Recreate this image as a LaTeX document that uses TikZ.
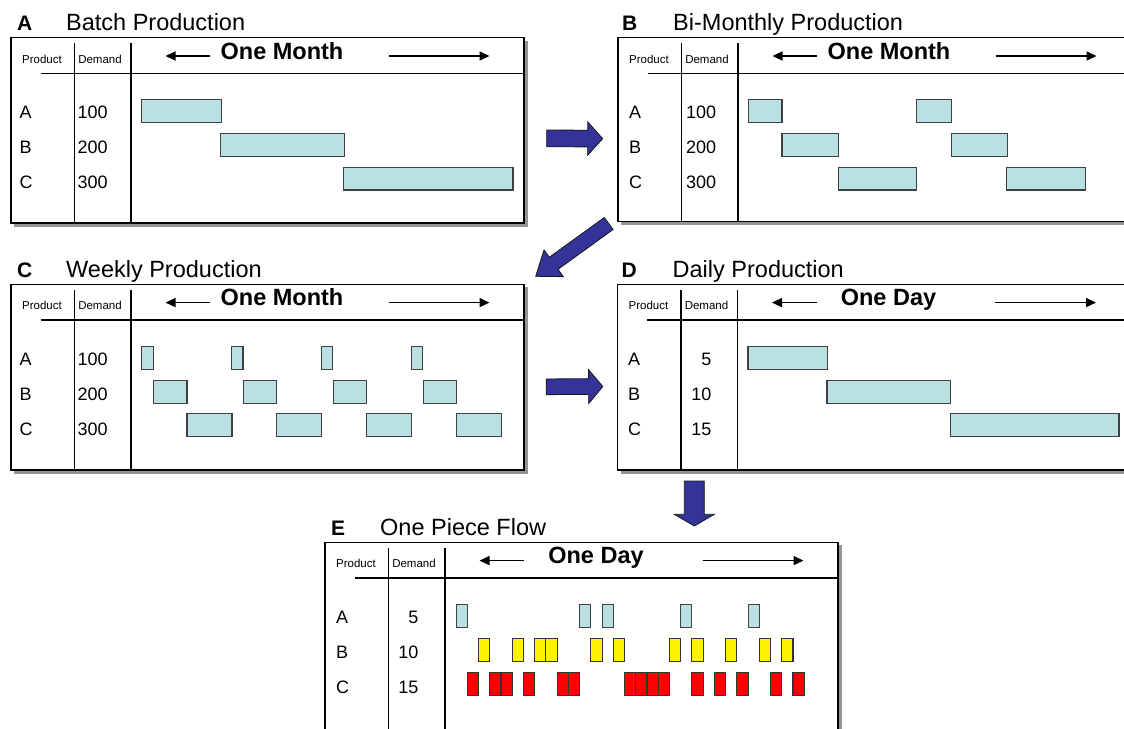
\documentclass[tikz,border=0pt]{standalone}
\usepackage{fontspec}
\setmainfont{Liberation Sans}
\usetikzlibrary{calc,arrows.meta}
\definecolor{barblue}{HTML}{BAE0E3}
\definecolor{arrowblue}{HTML}{333399}
\definecolor{shadowgray}{gray}{0.58}

\tikzset{
  frame/.style={draw=black, line width=1.2pt, fill=white},
  panelshadow/.style={fill=shadowgray},
  colrule/.style={draw=black, line width=1.2pt},
  hdrrule/.style={draw=black, line width=1.8pt},
  hdrarrow/.style={draw=black, line width=1.5pt, -{Triangle[length=10pt,width=9pt]}},
  paneltitle/.style={anchor=base west, inner sep=0pt, font=\fontsize{23.5}{28}\selectfont},
  panelletter/.style={anchor=base west, inner sep=0pt, font=\bfseries\fontsize{21}{25}\selectfont},
  colhead/.style={anchor=base, inner sep=0pt, font=\fontsize{11.5}{14}\selectfont},
  hdrtext/.style={anchor=base, inner sep=0pt, font=\bfseries\fontsize{23.5}{28}\selectfont},
  rowlbl/.style={anchor=base west, inner sep=0pt, font=\fontsize{18}{22}\selectfont},
  rownumL/.style={anchor=base west, inner sep=0pt, font=\fontsize{18}{22}\selectfont},
  rownumR/.style={anchor=base east, inner sep=0pt, font=\fontsize{18}{22}\selectfont},
  bluebar/.style={draw=black!75, line width=1.1pt, fill=barblue},
  yellowbar/.style={draw=black!80, line width=1.1pt, fill=yellow},
  redbar/.style={draw=black!80, line width=1.1pt, fill=red},
  blockarrow/.style={fill=arrowblue, draw=black!90, line width=0.8pt, line join=miter},
}

% #1 name, #2 left, #3 top, #4 height, #5 letter, #6 title, #7 header, #8 letter x, #9 row label x
\newcommand\panelframe[9]{%
 \begin{scope}[shift={(#2,#3)}]
  \fill[panelshadow] (3,3) rectangle (516.5,#4+3.5);
  \draw[frame] (0,0) rectangle (513,#4);
  \draw[colrule] (63.5,5.5) -- (63.5,#4);
  \draw[colrule] (120,5.5) -- (120,#4);
  \draw[hdrrule] (29.6,35.7) -- (513,35.7);
  \node[panelletter] (#1-letter) at (#8,-7) {#5};
  \node[paneltitle] (#1-title) at (55,-7) {#6};
  \node[colhead] (#1-prod) at (31,25.5) {Product};
  \node[colhead] (#1-dem) at (89,25.5) {Demand};
  \node[hdrtext] (#1-hdr) at (271,21.6) {#7};
  \coordinate (#1-l0) at (199,18.3);
  \coordinate (#1-l1) at (154.5,18.3);
  \coordinate (#1-r0) at (377.5,18.3);
  \coordinate (#1-r1) at (478.5,18.3);
  \draw[hdrarrow] (#1-l0) -- (#1-l1);
  \draw[hdrarrow] (#1-r0) -- (#1-r1);
  \node[rowlbl] (#1-a) at (#9,81) {A};
  \node[rowlbl] (#1-b) at (#9,116) {B};
  \node[rowlbl] (#1-c) at (#9,151) {C};
 \end{scope}}

% #1 name, #2 tail, #3 tip, #4 half shaft, #5 half head, #6 head length
\newcommand\blockarrow[6]{%
  \coordinate (#1-base) at ($(#3)!#6!(#2)$);
  \filldraw[blockarrow] ($(#2)!#4!90:(#3)$) -- ($(#1-base)!#4!-90:(#2)$)
    -- ($(#1-base)!#5!-90:(#2)$) -- (#3) -- ($(#1-base)!#5!90:(#2)$)
    -- ($(#1-base)!#4!90:(#2)$) -- ($(#2)!#4!-90:(#3)$) -- cycle;}

\begin{document}
\begin{tikzpicture}[x=1pt,y=-1pt]
\path[use as bounding box] (0,0) rectangle (1124,728);
\clip (0,0) rectangle (1124,728);
\fill[white] (0,0) rectangle (1124,728);

% ---------- panels ----------
\panelframe{A}{11}{37.7}{185.3}{A}{Batch Production}{One Month}{6}{8.5}
\panelframe{B}{618}{37.7}{184}{B}{Bi-Monthly Production}{One Month}{4}{11}
\panelframe{C}{11}{284.3}{185.7}{C}{Weekly Production}{One Month}{6}{8.5}
\panelframe{D}{617.5}{284.3}{185.7}{D}{Daily Production}{One Day}{4}{10.5}
\panelframe{E}{325}{542.3}{190}{E}{One Piece Flow}{One Day}{6}{11}

% ---------- demand numbers ----------
\node[rownumL] (A-na) at (77.5,118.7) {100};
\node[rownumL] (A-nb) at (77.5,153.7) {200};
\node[rownumL] (A-nc) at (77.5,188.7) {300};
\node[rownumL] (B-na) at (686,118.7) {100};
\node[rownumL] (B-nb) at (686,153.7) {200};
\node[rownumL] (B-nc) at (686,188.7) {300};
\node[rownumL] (C-na) at (77.5,365.3) {100};
\node[rownumL] (C-nb) at (77.5,400.3) {200};
\node[rownumL] (C-nc) at (77.5,435.3) {300};
\node[rownumR] (D-na) at (711.5,365.3) {5};
\node[rownumR] (D-nb) at (711.5,400.3) {10};
\node[rownumR] (D-nc) at (711.5,435.3) {15};
\node[rownumR] (E-na) at (418.6,623.3) {5};
\node[rownumR] (E-nb) at (418.6,658.3) {10};
\node[rownumR] (E-nc) at (418.6,693.3) {15};

% ---------- bars: panel A ----------
\begin{scope}[shift={(0,37.7)}]
  \draw[bluebar] (141.9,62) rectangle (221.4,84.8);
  \draw[bluebar] (220.7,96) rectangle (344.4,118.8);
  \draw[bluebar] (343.3,129.5) rectangle (513,152.3);
\end{scope}
% ---------- bars: panel B ----------
\begin{scope}[shift={(0,37.7)}]
  \draw[bluebar] (748.6,62) rectangle (782,84.8);
  \draw[bluebar] (916.9,62) rectangle (951.5,84.8);
  \draw[bluebar] (782,96) rectangle (838.7,118.8);
  \draw[bluebar] (951.5,96) rectangle (1007.4,118.8);
  \draw[bluebar] (838.7,129.5) rectangle (916.9,152.3);
  \draw[bluebar] (1006.7,129.5) rectangle (1085.6,152.3);
\end{scope}
% ---------- bars: panel C ----------
\begin{scope}[shift={(0,284.3)}]
  \foreach \s in {141.9,231.8,321.7,411.6}
    \draw[bluebar] (\s,62) rectangle ++(11.2,22.8);
  \foreach \s in {153.4,243.3,333.2,423.1}
    \draw[bluebar] (\s,96) rectangle ++(33.6,22.8);
  \foreach \s in {187,276.9,366.8,456.7}
    \draw[bluebar] (\s,129.5) rectangle ++(45,22.8);
\end{scope}
% ---------- bars: panel D ----------
\begin{scope}[shift={(0,284.3)}]
  \draw[bluebar] (748,62) rectangle (827.4,84.8);
  \draw[bluebar] (827,96) rectangle (950.7,118.8);
  \draw[bluebar] (950.7,129.5) rectangle (1119,152.3);
\end{scope}
% ---------- bars: panel E ----------
\begin{scope}[shift={(0,542.3)}]
  \foreach \k in {0,11,13,20,26}
    \draw[bluebar] ({456.1+11.23*\k},62.5) rectangle ++(11.23,22.8);
  \foreach \k in {2,5,7,8,12,14,19,21,24,27,29}
    \draw[yellowbar] ({456.1+11.23*\k},96.5) rectangle ++(11.23,22.8);
  \foreach \k in {1,3,4,6,9,10,15,16,17,18,21,23,25,28,30}
    \draw[redbar] ({456.1+11.23*\k},130) rectangle ++(11.23,22.8);
\end{scope}

% ---------- block arrows between panels ----------
\coordinate (ab-t) at (546.7,138.4);
\coordinate (ab-h) at (602.7,138.6);
\blockarrow{ab}{ab-t}{ab-h}{8.35pt}{16.65pt}{15pt}

\coordinate (bc-t) at (608.7,223.5);
\coordinate (bc-h) at (535.7,276.3);
\blockarrow{bc}{bc-t}{bc-h}{7.45pt}{16.5pt}{22.2pt}

\coordinate (cd-t) at (546.2,386.8);
\coordinate (cd-h) at (602.8,386.5);
\blockarrow{cd}{cd-t}{cd-h}{7.85pt}{17pt}{14.2pt}

\coordinate (de-t) at (694.3,481);
\coordinate (de-h) at (694.3,526);
\blockarrow{de}{de-t}{de-h}{10pt}{20pt}{11.7pt}

\end{tikzpicture}
\end{document}
